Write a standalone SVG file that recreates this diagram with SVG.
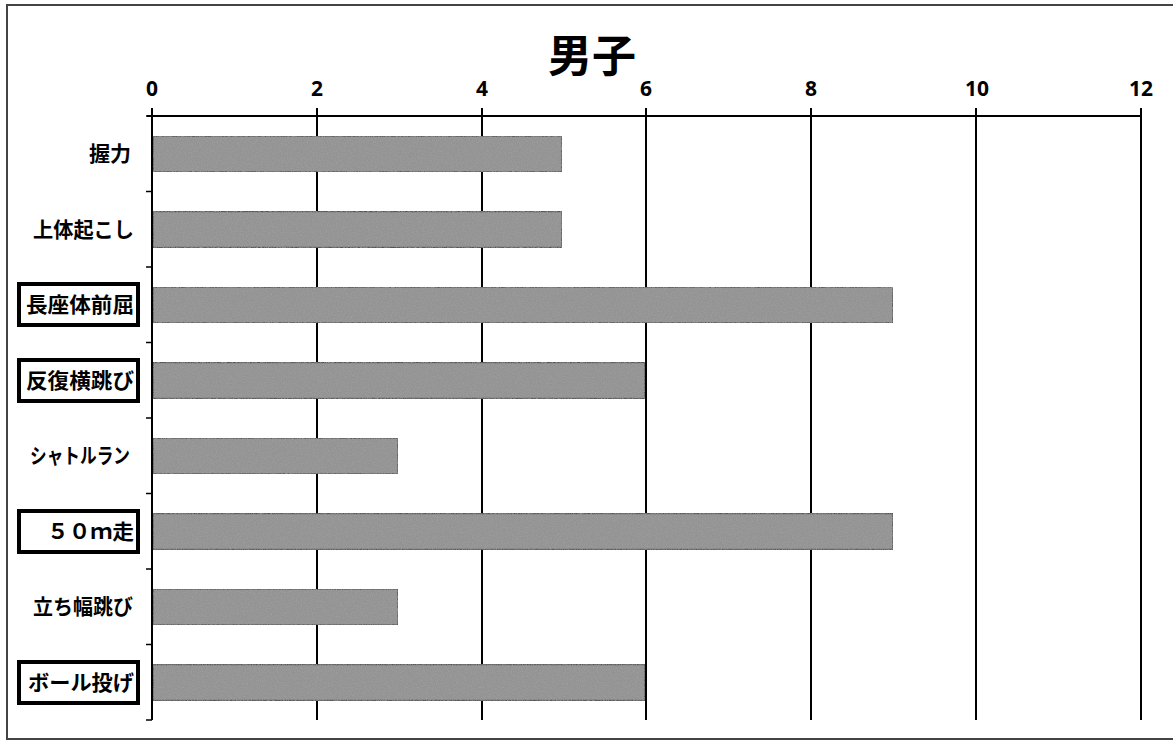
<svg xmlns="http://www.w3.org/2000/svg" width="1173" height="742" viewBox="0 0 1173 742">
<style>
.frame{fill:none;stroke:#444;stroke-width:2}
.axis{stroke:#000;stroke-width:2;fill:none}
.grid{stroke:#000;stroke-width:2}
.tick{stroke:#000;stroke-width:1.5}
.bar{fill:#939393;stroke:#555;stroke-width:1.5;filter:url(#speckle)}
.num{font-family:"Noto Sans","Liberation Sans",sans-serif;font-size:21px;font-weight:bold;fill:#000;text-anchor:middle}
.cat{font-family:"Noto Sans CJK JP",sans-serif;font-size:21px;font-weight:bold;fill:#000;text-anchor:end}
.box{fill:#fff;stroke:#000;stroke-width:4}
.title{font-family:"Noto Sans CJK JP",sans-serif;font-size:44px;font-weight:bold;fill:#000;text-anchor:middle}
</style>
<defs>
<filter id="speckle" x="0" y="0" width="100%" height="100%">
<feTurbulence type="fractalNoise" baseFrequency="0.8" numOctaves="2" seed="3" result="n"/>
<feColorMatrix in="n" type="matrix" values="0 0 0 0 0.35  0 0 0 0 0.35  0 0 0 0 0.35  0 0 0 1.6 -0.55" result="g"/>
<feComposite in="g" in2="SourceGraphic" operator="in" result="gi"/>
<feMerge><feMergeNode in="SourceGraphic"/><feMergeNode in="gi"/></feMerge>
</filter>
</defs>
<rect width="1173" height="742" fill="#fff"/>
<path class="frame" d="M1173,5 H7 V739 H1173"/>
<text class="title" x="592" y="72">男子</text>
<g id="axes">
<g class="grid">
<line x1="317" y1="108" x2="317" y2="720"/>
<line x1="482" y1="108" x2="482" y2="720"/>
<line x1="646" y1="108" x2="646" y2="720"/>
<line x1="811" y1="108" x2="811" y2="720"/>
<line x1="976" y1="108" x2="976" y2="720"/>
<line x1="1141" y1="108" x2="1141" y2="720"/>
</g>
<line class="axis" x1="147" y1="116" x2="1141" y2="116"/>
<line class="axis" x1="152" y1="108" x2="152" y2="720"/>
<g class="tick">
<line x1="146" y1="116" x2="152" y2="116"/>
<line x1="146" y1="191.5" x2="152" y2="191.5"/>
<line x1="146" y1="267" x2="152" y2="267"/>
<line x1="146" y1="342.5" x2="152" y2="342.5"/>
<line x1="146" y1="418" x2="152" y2="418"/>
<line x1="146" y1="493.5" x2="152" y2="493.5"/>
<line x1="146" y1="569" x2="152" y2="569"/>
<line x1="146" y1="644.5" x2="152" y2="644.5"/>
<line x1="146" y1="720" x2="152" y2="720"/>
</g>
<g class="num">
<text x="152" y="96">0</text>
<text x="317" y="96">2</text>
<text x="482" y="96">4</text>
<text x="646" y="96">6</text>
<text x="811" y="96">8</text>
<text x="977" y="96">10</text>
<text x="1141" y="96">12</text>
</g>
</g>
<g id="grip">
<rect class="bar" x="153" y="136" width="409" height="36"/>
<text class="cat" x="131" y="161">握力</text>
</g>
<g id="situp">
<rect class="bar" x="153" y="211.5" width="409" height="36"/>
<text class="cat" x="134" y="236.5" textLength="101" lengthAdjust="spacingAndGlyphs">上体起こし</text>
</g>
<g id="sitreach">
<rect class="bar" x="153" y="287" width="740" height="36"/>
<rect class="box" x="19" y="284" width="119" height="41"/>
<text class="cat" x="134" y="312" textLength="108" lengthAdjust="spacingAndGlyphs">長座体前屈</text>
</g>
<g id="sidestep">
<rect class="bar" x="153" y="362.5" width="492" height="36"/>
<rect class="box" x="19" y="360" width="119" height="41"/>
<text class="cat" x="134" y="387.5" textLength="108" lengthAdjust="spacingAndGlyphs">反復横跳び</text>
</g>
<g id="shuttle">
<rect class="bar" x="153" y="438" width="245" height="36"/>
<text class="cat" x="130" y="463" textLength="100" lengthAdjust="spacingAndGlyphs">シャトルラン</text>
</g>
<g id="dash50">
<rect class="bar" x="153" y="513.5" width="740" height="36"/>
<rect class="box" x="19" y="511" width="119" height="41"/>
<text class="cat" x="134" y="538.5" textLength="87" lengthAdjust="spacingAndGlyphs">５０ｍ走</text>
</g>
<g id="longjump">
<rect class="bar" x="153" y="589" width="245" height="36"/>
<text class="cat" x="133" y="614" textLength="100" lengthAdjust="spacingAndGlyphs">立ち幅跳び</text>
</g>
<g id="ballthrow">
<rect class="bar" x="153" y="664.5" width="492" height="36"/>
<rect class="box" x="19" y="662" width="119" height="41"/>
<text class="cat" x="134" y="689.5" textLength="106" lengthAdjust="spacingAndGlyphs">ボール投げ</text>
</g>
</svg>
